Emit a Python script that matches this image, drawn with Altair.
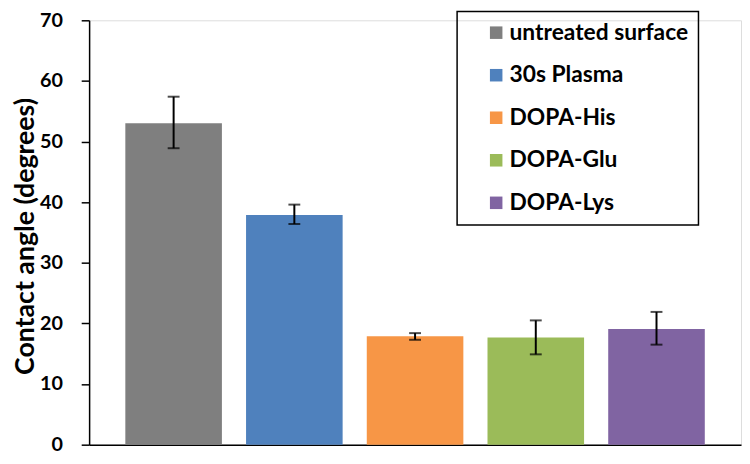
import altair as alt
import pandas as pd

categories = ["untreated surface", "30s Plasma", "DOPA-His", "DOPA-Glu", "DOPA-Lys"]
means = [53.0, 37.9, 17.9, 17.7, 19.1]
err_low = [48.9, 36.4, 17.3, 14.9, 16.5]
err_high = [57.4, 39.6, 18.4, 20.5, 21.9]
colors = ["#7f7f7f", "#4f81bd", "#f79646", "#9bbb59", "#8064a2"]
y_ticks = [0, 10, 20, 30, 40, 50, 60, 70]

df = pd.DataFrame({"cat": categories, "mean": means, "lo": err_low, "hi": err_high})

FONT = "Lato"
NB = "\u00a0" * 12

x = alt.X("cat:N", sort=categories,
          scale=alt.Scale(paddingInner=0.2, paddingOuter=0.3),
          axis=alt.Axis(title=None, labels=False, ticks=False,
                        domainColor="black", domainWidth=1.5))

y_scale = alt.Scale(domain=[0, 70], nice=False)

bars = alt.Chart(df).mark_bar().encode(
    x=x,
    y=alt.Y("mean:Q", scale=y_scale,
            axis=alt.Axis(title="Contact angle (degrees)", values=y_ticks, grid=False,
                          domainColor="black", domainWidth=1.5,
                          tickColor="black", tickWidth=1.5, tickSize=8,
                          labelFont=FONT, labelFontSize=20, labelFontWeight="bold",
                          labelColor="black", labelPadding=19,
                          titleFont=FONT, titleFontSize=27, titleFontWeight="bold",
                          titleColor="black", titleAngle=270,
                          titleX=-64, titleY=218, titleAlign="center",
                          titleBaseline="middle")),
    color=alt.Color("cat:N", sort=categories,
                    scale=alt.Scale(domain=categories, range=colors),
                    legend=alt.Legend(title=None, orient="none", legendX=372, legendY=-9,
                                      symbolType="square", symbolSize=160,
                                      symbolStrokeWidth=0,
                                      symbolOffset=18, labelOffset=2,
                                      labelFont=FONT, labelFontSize=23,
                                      labelFontWeight="bold", labelColor="black",
                                      labelExpr="datum.label + '" + NB + "'",
                                      labelLimit=400,
                                      rowPadding=19, padding=10)),
)

rules = alt.Chart(df).mark_rule(color="black", strokeWidth=2).encode(
    x=alt.X("cat:N", sort=categories),
    y=alt.Y("lo:Q", scale=y_scale),
    y2="hi:Q",
)

caps_lo = alt.Chart(df).mark_tick(color="black", size=12, thickness=2).encode(
    x=alt.X("cat:N", sort=categories),
    y=alt.Y("lo:Q", scale=y_scale),
)
caps_hi = alt.Chart(df).mark_tick(color="black", size=12, thickness=2).encode(
    x=alt.X("cat:N", sort=categories),
    y=alt.Y("hi:Q", scale=y_scale),
)

chart = alt.layer(bars, rules, caps_lo, caps_hi).properties(
    width=659, height=429,
    autosize=alt.AutoSizeParams(type="none"),
    padding={"left": 82, "top": 10, "right": 1, "bottom": 9},
).configure_view(stroke=None).configure(background="white").configure_legend(
    strokeColor="black", strokeWidth=1.5
)

chart.save("out.html", embed_options={"renderer": "svg", "actions": False})
